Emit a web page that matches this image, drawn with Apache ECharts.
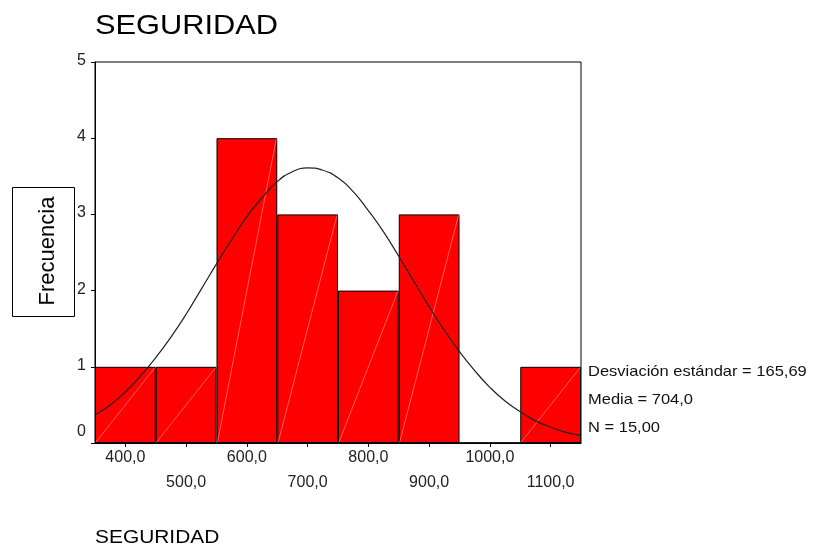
<!DOCTYPE html>
<html>
<head>
<meta charset="utf-8">
<script src="https://cdn.jsdelivr.net/npm/echarts@6/dist/echarts.min.js"></script>
<style>html,body{margin:0;padding:0;background:#fff;}#c{width:820px;height:546px;}</style>
</head>
<body>
<div id="c"></div>
<script>
// Histogram bins (bin centres) and frequencies
const categories = ['400,0','500,0','600,0','700,0','800,0','900,0','1000,0','1100,0'];
const frequencies = [1, 1, 4, 3, 2, 3, 0, 1];
// Fitted normal curve
const curveX = [350,375,400,425,450,475,500,525,550,575,600,625,650,675,700,725,750,775,800,825,850,875,900,925,950,975,1000,1025,1050,1075,1100,1125,1150];
const curveY = [0.37,0.50,0.67,0.88,1.12,1.39,1.69,2.02,2.35,2.67,2.97,3.22,3.43,3.56,3.61,3.58,3.48,3.30,3.05,2.77,2.45,2.12,1.79,1.48,1.20,0.95,0.73,0.55,0.41,0.29,0.21,0.14,0.10];
const yTicks = [0, 1, 2, 3, 4, 5];
const titleText = 'SEGURIDAD';
const axisTitle = 'SEGURIDAD';
const yName = 'Frecuencia';
const statLines = ['Desviación estándar = 165,69', 'Media = 704,0', 'N = 15,00'];

const FONT = '"Liberation Sans", Arial, sans-serif';
const chart = echarts.init(document.getElementById('c'), null, {renderer: 'canvas'});

const curveData = curveX.map((x, i) => [x, curveY[i]]);

const option = {
  animation: false,
  backgroundColor: '#fff',
  grid: {left: 95, top: 62, width: 486, height: 381, show: true, borderColor: '#000', borderWidth: 1, backgroundColor: 'transparent'},
  xAxis: [
    {
      type: 'category', data: categories, boundaryGap: true,
      axisLine: {lineStyle: {color: '#000', width: 1}},
      axisTick: {show: true, alignWithLabel: true, length: 4, lineStyle: {color: '#000'}},
      axisLabel: {
        interval: 0, fontSize: 16, fontFamily: FONT, color: '#222', margin: 2, lineHeight: 25,
        formatter: (v, i) => (i % 2 ? '\n' + v : v)
      },
      splitLine: {show: false}
    },
    {type: 'value', min: 350, max: 1150, show: false}
  ],
  yAxis: {
    type: 'value', min: yTicks[0], max: yTicks[yTicks.length - 1], interval: 1,
    axisLine: {show: true, lineStyle: {color: '#000', width: 1}},
    axisTick: {show: true, length: 4, lineStyle: {color: '#000'}},
    splitLine: {show: false},
    axisLabel: {
      fontSize: 16, fontFamily: FONT, color: '#222', margin: 9,
      formatter: v => (v === 0 ? '{z|0}' : '{n|' + v + '}'),
      rich: {
        z: {fontSize: 16, fontFamily: FONT, color: '#222', padding: [0, 0, 22, 0]},
        n: {fontSize: 16, fontFamily: FONT, color: '#222', padding: [0, 0, 3, 0]}
      }
    }
  },
  series: [
    {
      type: 'bar', data: frequencies, barCategoryGap: '0%', xAxisIndex: 0,
      itemStyle: {color: '#ff0000', borderColor: '#000', borderWidth: 1}, z: 2
    },
    {
      type: 'custom', xAxisIndex: 0, data: frequencies.map((v, i) => [i, v]), z: 3,
      renderItem: function (params, api) {
        const v = api.value(1);
        if (!v) return null;
        const top = api.coord([api.value(0), v]);
        const base = api.coord([api.value(0), 0]);
        const w = api.size([1, 0])[0];
        return {
          type: 'line',
          shape: {x1: base[0] - w / 2 + 1, y1: base[1] - 1, x2: top[0] + w / 2 - 1, y2: top[1] + 1},
          style: {stroke: 'rgba(255,170,170,0.55)', lineWidth: 1}
        };
      }
    },
    {
      type: 'line', xAxisIndex: 1, data: curveData, smooth: true, showSymbol: false,
      lineStyle: {color: '#222', width: 1.2}, z: 4
    }
  ],
  graphic: [
    {type: 'text', x: 95, y: 26, scaleX: 1.1, style: {text: titleText, fontSize: 28, fontFamily: FONT, fill: '#000', verticalAlign: 'middle'}},
    {type: 'text', x: 95, y: 538, scaleX: 1.1, style: {text: axisTitle, fontSize: 19, fontFamily: FONT, fill: '#000', verticalAlign: 'middle'}},
    {type: 'rect', shape: {x: 12.5, y: 187.5, width: 62, height: 129}, style: {fill: '#fff', stroke: '#000', lineWidth: 1}},
    {type: 'text', x: 48, y: 251, rotation: Math.PI / 2, style: {text: yName, fontSize: 22, fontFamily: FONT, fill: '#000', align: 'center', verticalAlign: 'middle'}},
    {type: 'text', x: 588, y: 372, scaleX: 1.1, style: {text: statLines[0], fontSize: 15, fontFamily: FONT, fill: '#111', verticalAlign: 'middle'}},
    {type: 'text', x: 588, y: 400, scaleX: 1.1, style: {text: statLines[1], fontSize: 15, fontFamily: FONT, fill: '#111', verticalAlign: 'middle'}},
    {type: 'text', x: 588, y: 428, scaleX: 1.1, style: {text: statLines[2], fontSize: 15, fontFamily: FONT, fill: '#111', verticalAlign: 'middle'}}
  ]
};
chart.setOption(option);
</script>
</body>
</html>
